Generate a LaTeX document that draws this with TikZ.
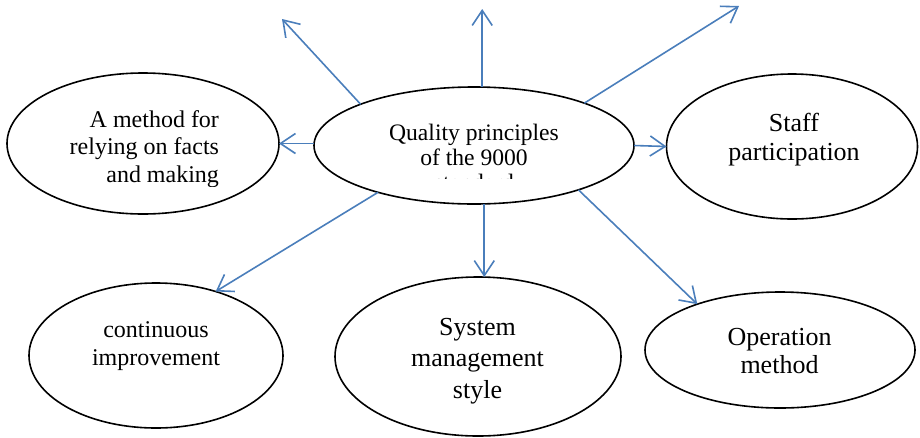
\documentclass[tikz,border=0pt]{standalone}
\usepackage{fontspec}
\setmainfont{Liberation Serif}
\usetikzlibrary{arrows.meta,shapes.geometric}
\definecolor{arrowblue}{RGB}{74,126,187}
\tikzset{
  ell/.style={draw=black, line width=1.6pt, ellipse, inner sep=0pt, outer sep=0pt},
  txt/.style={inner sep=0pt, outer sep=0pt, align=center, anchor=base},
  conn/.style={draw=arrowblue, line width=1.6pt, -{Straight Barb[length=15pt,width=20pt]}}
}
\newcommand{\fs}[2]{\fontsize{#1pt}{#2pt}\selectfont}
\begin{document}
\begin{tikzpicture}[x=1pt,y=-1pt]
\useasboundingbox (0,0) rectangle (920,437);
% ellipses
\node[ell, minimum width=320pt, minimum height=117pt] (c) at (474,145.5) {};
\node[ell, minimum width=272pt, minimum height=141pt] (l) at (143,143.5) {};
\node[ell, minimum width=251pt, minimum height=145pt] (s) at (792,146.5) {};
\node[ell, minimum width=254pt, minimum height=145pt] (ci) at (156,355.5) {};
\node[ell, minimum width=286pt, minimum height=159pt] (sm) at (478,356.5) {};
\node[ell, minimum width=270pt, minimum height=116pt] (om) at (780,350) {};
% texts (anchor = baseline of the last line)
\begin{scope}
  \clip (0,0) rectangle (920,178.5);
  \node[txt, font=\fs{23.6}{25}] (ct) at (474,190) {Quality principles\\of the 9000\\standard};
\end{scope}
\begin{scope}
  \clip (0,0) rectangle (920,186.5);
  \node[txt, align=right, anchor=base east, font=\fs{24}{27.5}] (lt) at (219,182) {A method for\\relying on facts\\and making};
\end{scope}
\node[txt, font=\fs{26}{29}] (st) at (794,160) {Staff\\participation};
\node[txt, font=\fs{24}{28}] (cit) at (156,365) {continuous\\improvement};
\node[txt, font=\fs{26}{31.5}] (smt) at (477.5,398) {System\\management\\style};
\node[txt, font=\fs{26}{28}] (omt) at (779.5,373) {Operation\\method};
% free ends
\coordinate (eUL) at (282,19);
\coordinate (eU) at (482,9);
\coordinate (eUR) at (739,6);
% connectors
\draw[conn] (c.160) -- (eUL);
\draw[conn] (c.82) -- (c.82 |- eU);
\draw[conn] (c.21) -- (eUR);
\draw[conn] (c.west |- l.east) -- (l.east);
\draw[conn] (c.east) -- (s.west);
\draw[conn] (c.206) -- (ci.47);
\draw[conn] (c.280) -- (c.280 |- sm.north);
\draw[conn] (c.337) -- (om.151);
\end{tikzpicture}
\end{document}
